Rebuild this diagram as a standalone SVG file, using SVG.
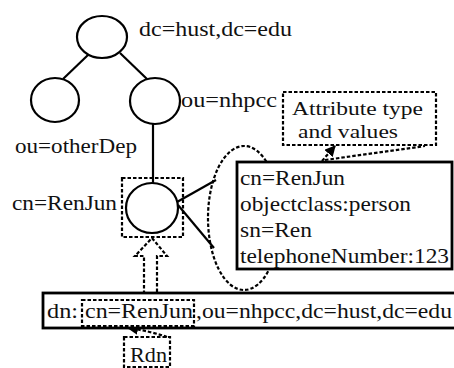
<svg xmlns="http://www.w3.org/2000/svg" width="454" height="368" viewBox="0 0 454 368">
  <defs>
    <style>
      .node { fill: #fff; stroke: #000; stroke-width: 2.2; }
      .edge { stroke: #000; stroke-width: 2.2; fill: none; }
      .dash { fill: none; stroke: #000; stroke-width: 2.2; stroke-dasharray: 3.5 2; }
      .dashw { fill: #fff; stroke: #000; stroke-width: 2.2; stroke-dasharray: 3.5 2; }
      .box { fill: #fff; stroke: #000; stroke-width: 2.8; }
    </style>
    <marker id="tip" viewBox="0 0 10 10" refX="9" refY="5" markerWidth="5" markerHeight="5" orient="auto">
      <path d="M0,0 L10,5 L0,10 z" fill="#000"/>
    </marker>
  </defs>

  <rect width="454" height="368" fill="#fff"/>

  <!-- tree edges and pointers -->
  <g id="connectors">
    <line class="edge" x1="88" y1="55" x2="63" y2="79"/>
    <line class="edge" x1="120" y1="53" x2="147" y2="79"/>
    <line class="edge" x1="153" y1="124" x2="153" y2="184"/>
    <line class="edge" x1="177" y1="202" x2="216" y2="180"/>
    <line class="edge" x1="178" y1="205" x2="214" y2="248"/>
    <!-- hollow dashed arrow from dn up to the entry -->
    <polygon class="dashw" points="152,238 167,256 157,256 157,293 144,293 144,256 135,256"/>
    <!-- callout tail for the attribute label -->
    <line class="dash" x1="322" y1="161" x2="335" y2="146" marker-end="url(#tip)"/>
    <line class="dash" x1="325" y1="160" x2="425" y2="146"/>
    <!-- Rdn pointer -->
    <path class="dash" d="M167,337 Q150,331 128,328" marker-end="url(#tip)"/>
  </g>

  <g font-family="Liberation Serif" font-size="21" fill="#111">
    <g id="root">
      <ellipse class="node" cx="102" cy="37" rx="25" ry="21"/>
      <text x="139" y="36" textLength="153" lengthAdjust="spacingAndGlyphs">dc=hust,dc=edu</text>
    </g>

    <g id="otherDep">
      <ellipse class="node" cx="55" cy="100" rx="24" ry="22"/>
      <text x="15" y="153" textLength="122" lengthAdjust="spacingAndGlyphs">ou=otherDep</text>
    </g>

    <g id="nhpcc">
      <ellipse class="node" cx="155" cy="101" rx="25" ry="23"/>
      <text x="181" y="107" textLength="96" lengthAdjust="spacingAndGlyphs">ou=nhpcc</text>
    </g>

    <g id="renjun">
      <rect class="dash" x="122" y="178" width="61" height="59"/>
      <ellipse class="node" cx="152" cy="208" rx="26" ry="25"/>
      <text x="12" y="210" textLength="105" lengthAdjust="spacingAndGlyphs">cn=RenJun</text>
    </g>

    <g id="attributes">
      <ellipse class="dash" cx="244" cy="218" rx="36" ry="72"/>
      <rect class="box" x="237" y="162" width="215" height="107"/>
      <text x="240" y="185" textLength="105" lengthAdjust="spacingAndGlyphs">cn=RenJun</text>
      <text x="240" y="211" textLength="171" lengthAdjust="spacingAndGlyphs">objectclass:person</text>
      <text x="240" y="237" textLength="72" lengthAdjust="spacingAndGlyphs">sn=Ren</text>
      <text x="240" y="263" textLength="209" lengthAdjust="spacingAndGlyphs">telephoneNumber:123</text>
    </g>

    <g id="attr-label" font-size="19">
      <rect class="dashw" x="283" y="92" width="153" height="53"/>
      <text x="292" y="115" textLength="131" lengthAdjust="spacingAndGlyphs">Attribute type</text>
      <text x="298" y="138" textLength="100" lengthAdjust="spacingAndGlyphs">and values</text>
    </g>

    <g id="dn">
      <rect class="box" x="43" y="293" width="420" height="35"/>
      <rect class="dash" x="82" y="300" width="112" height="26"/>
      <text x="47" y="318" textLength="31" lengthAdjust="spacingAndGlyphs">dn:</text>
      <text x="85" y="318" textLength="108" lengthAdjust="spacingAndGlyphs">cn=RenJun</text>
      <text x="196" y="318" textLength="256" lengthAdjust="spacingAndGlyphs">,ou=nhpcc,dc=hust,dc=edu</text>
    </g>

    <g id="rdn">
      <rect class="dash" x="124" y="337" width="46" height="30"/>
      <text x="130" y="362" textLength="37" lengthAdjust="spacingAndGlyphs">Rdn</text>
    </g>
  </g>
</svg>
